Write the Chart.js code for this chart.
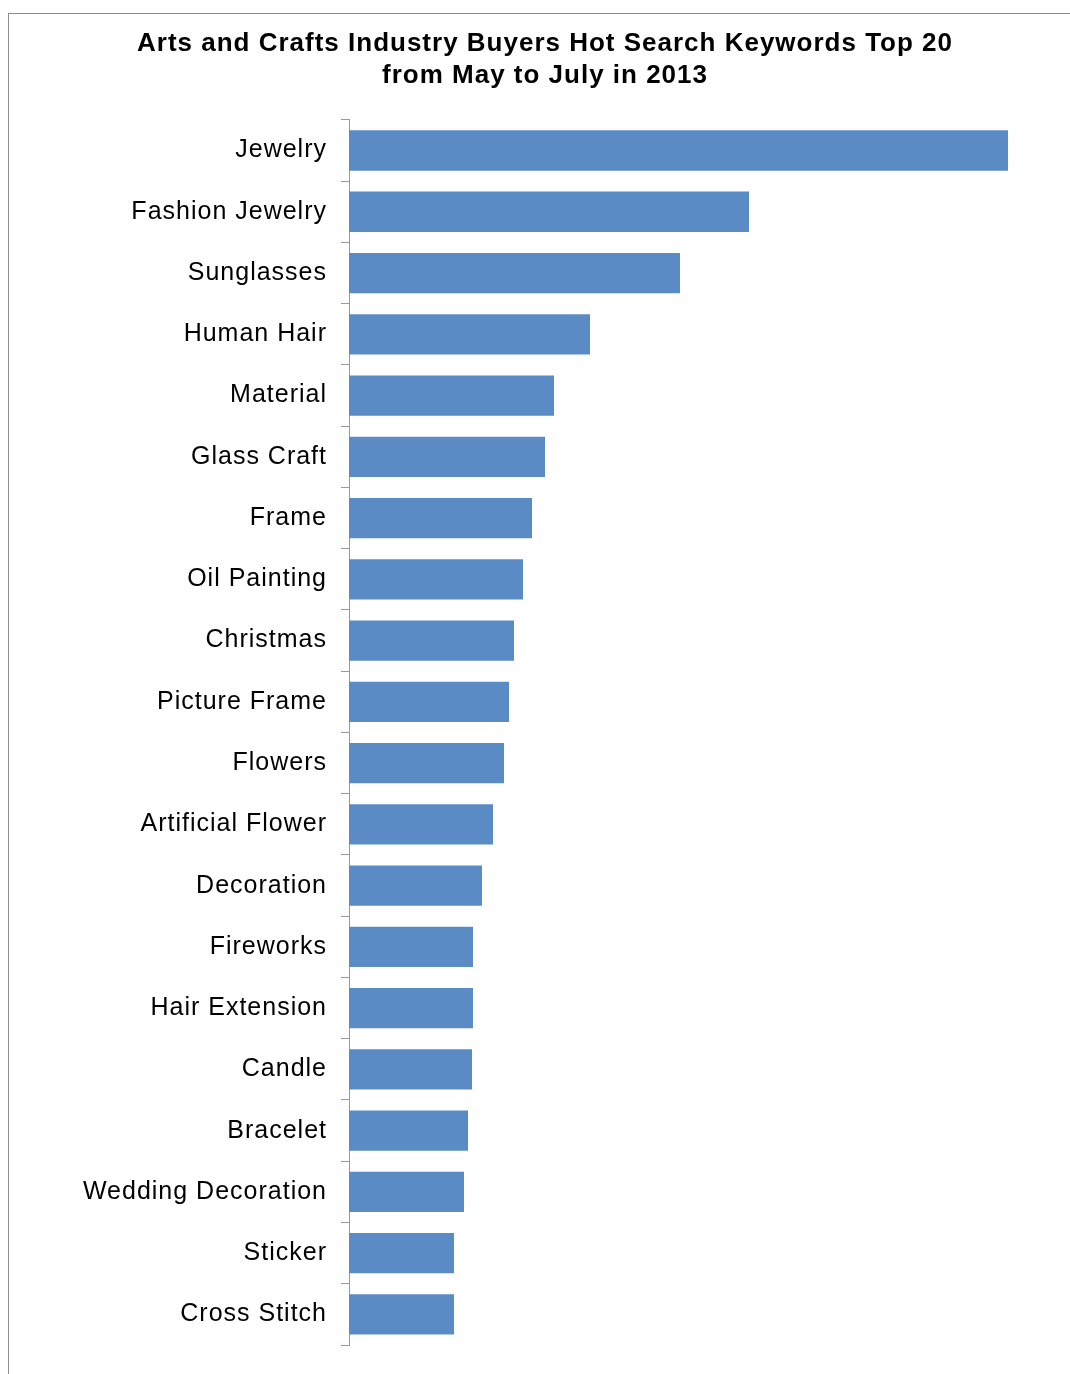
<!DOCTYPE html>
<html>
<head>
<meta charset="utf-8">
<script src="https://cdn.jsdelivr.net/npm/chart.js@4/dist/chart.umd.min.js"></script>
<style>
  html, body { margin:0; padding:0; background:#fff; overflow:hidden; }
  #frame { position:absolute; left:8px; top:13px; width:1100px; height:1400px;
           border-left:1px solid #8c8c8c; border-top:1px solid #8c8c8c; }
  #wrap  { position:absolute; left:0; top:0; width:1090px; height:1374px; }
</style>
</head>
<body>
<div id="frame"></div>
<div id="wrap"><canvas id="kwChart"></canvas></div>
<script>
// ---- Data ----
const titleLines = ['Arts and Crafts Industry Buyers Hot Search Keywords Top 20', 'from May to July in 2013'];
const keywords = ['Jewelry','Fashion Jewelry','Sunglasses','Human Hair','Material','Glass Craft','Frame',
                  'Oil Painting','Christmas','Picture Frame','Flowers','Artificial Flower','Decoration',
                  'Fireworks','Hair Extension','Candle','Bracelet','Wedding Decoration','Sticker','Cross Stitch'];
const searchIndex = [659, 400, 331, 241, 205, 196, 183, 174, 165, 160, 155, 144, 133, 124, 124, 123, 119, 115, 105, 105];

const AXIS_GREY = '#9a9a9a';

// old GDI text is drawn a bit looser than canvas text
const looseText = {
  id: 'looseText',
  beforeDraw: chart => { chart.ctx.letterSpacing = '1px'; },
};

new Chart(document.getElementById('kwChart').getContext('2d'), {
  type: 'bar',
  data: {
    labels: keywords,
    datasets: [{ data: searchIndex, backgroundColor: '#5b8bc5', borderWidth: 0,
                 barPercentage: 0.66, categoryPercentage: 1 }],
  },
  plugins: [looseText],
  options: {
    indexAxis: 'y',
    responsive: true,
    maintainAspectRatio: false,
    animation: false,
    layout: { padding: { left: 0, right: 0, top: 0, bottom: 29 } },
    plugins: {
      legend:  { display: false },
      tooltip: { enabled: false },
      title: {
        display: true,
        text: titleLines,
        color: '#000',
        font: { family: 'Liberation Sans, Arial, sans-serif', size: 26, weight: 'bold', lineHeight: 1.23 },
        padding: { top: 28, bottom: 28 },
      },
    },
    scales: {
      x: { display: false, min: 0, max: 741 },
      y: {
        afterFit: s => { s.width = 349; },
        border: { display: true, color: AXIS_GREY, width: 1 },
        grid: { offset: true, drawOnChartArea: false, drawTicks: true, tickLength: 8, color: AXIS_GREY },
        ticks: { color: '#000', padding: 14, autoSkip: false,
                 font: { family: 'Liberation Sans, Arial, sans-serif', size: 25 } },
      },
    },
  },
});
</script>
</body>
</html>
